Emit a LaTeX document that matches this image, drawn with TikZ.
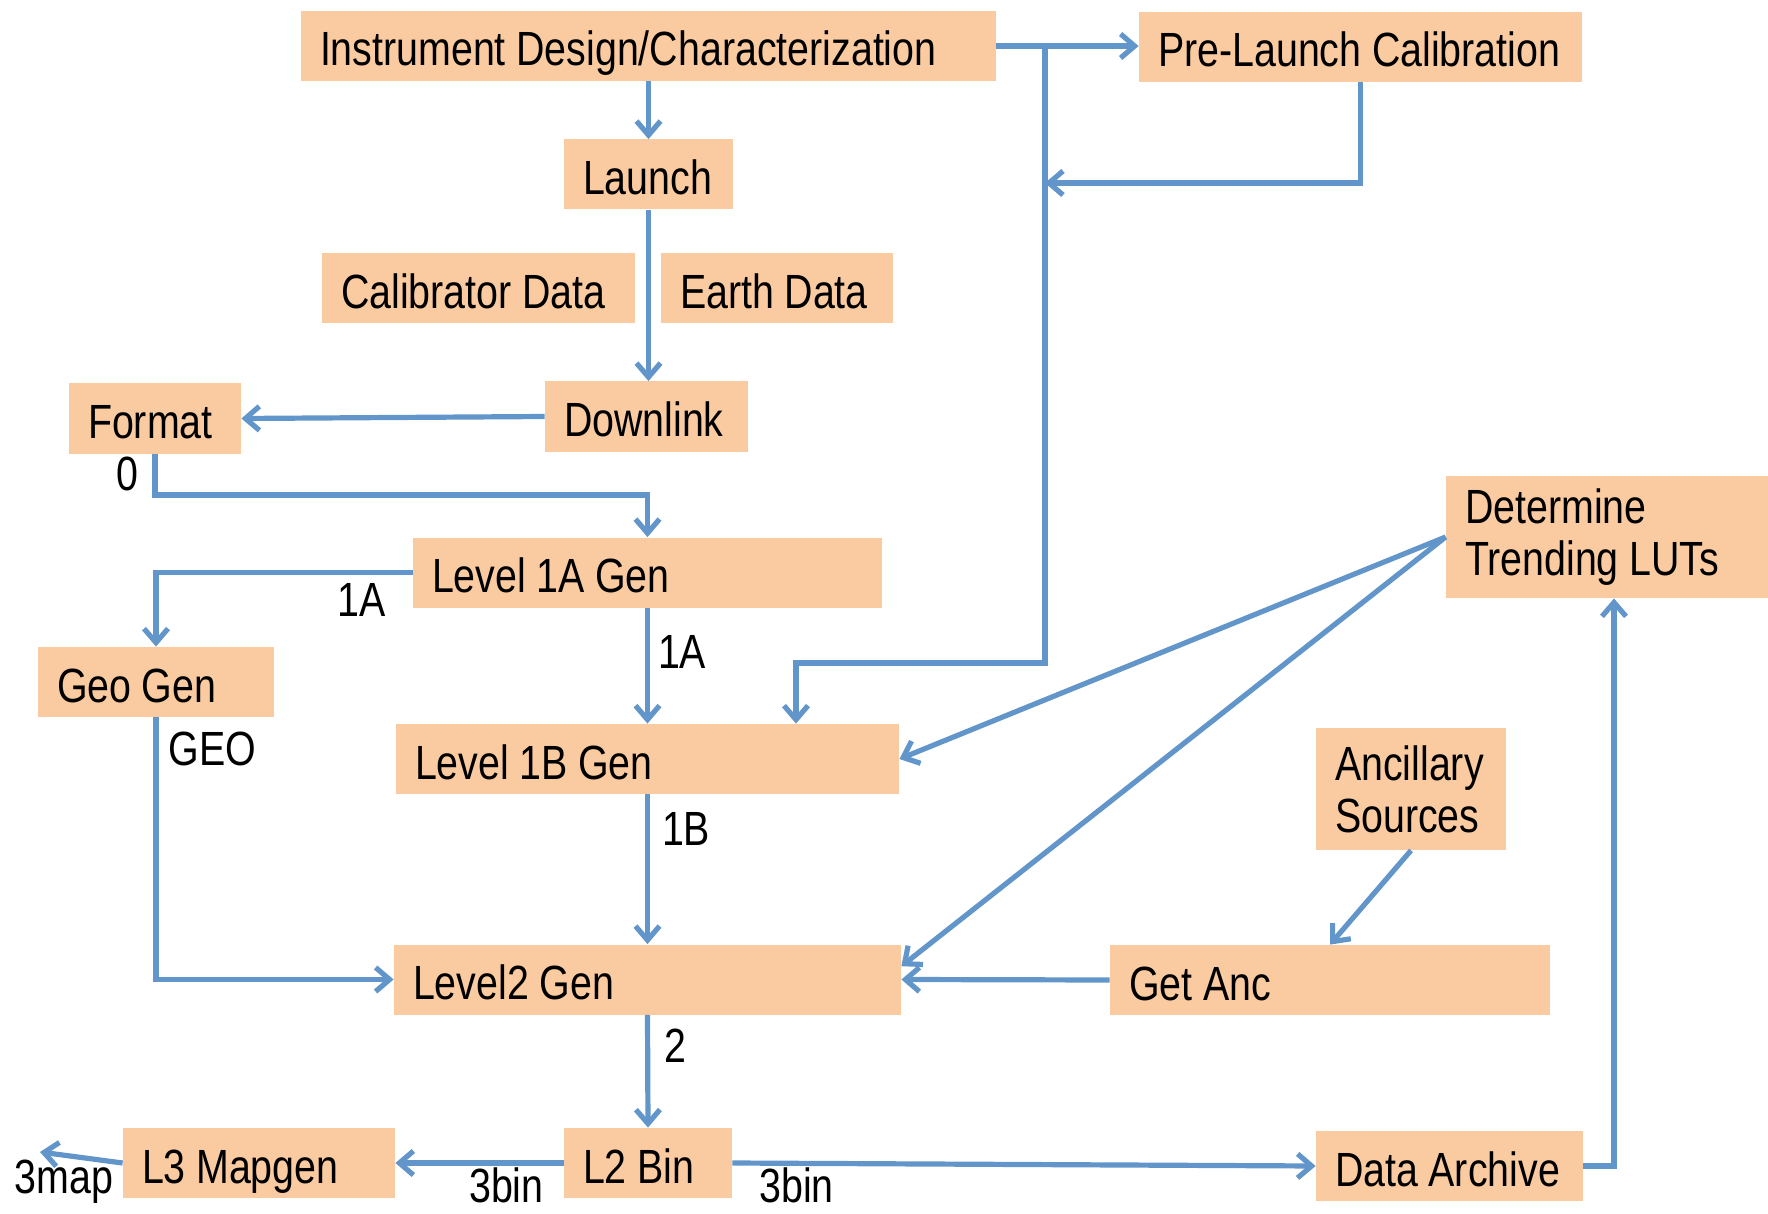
\documentclass[tikz,border=0pt]{standalone}
\usepackage{fontspec}
\setmainfont{Liberation Sans}[FakeStretch=0.82]
\usepackage{xcolor}
\usepackage{tikz}
\usetikzlibrary{arrows.meta}
\definecolor{boxfill}{RGB}{250,203,160}
\definecolor{flowline}{RGB}{98,150,202}

\begin{document}
\begin{tikzpicture}[
			     x=0.5pt, y=-0.5pt,
			     font=\fontsize{24}{26}\selectfont,
			     >={Straight Barb[length=7pt,width=12pt]},
			     blk/.style={fill=boxfill, inner xsep=9.5pt, inner ysep=0pt, align=left,
			                 execute at begin node={\spaceskip=0.22em plus 0.05em\relax}},
			     single/.style={blk, minimum height=35pt, text height=20pt, text depth=0pt},
			     tall/.style={blk, minimum height=61pt, yshift=0pt},
			     flow/.style={->, draw=flowline, line width=2.6pt},
			     lbl/.style={inner sep=4pt}
			     ]
\useasboundingbox (0,0) rectangle (1768,1214);
\node[single, text width=328.5pt] (inst) at (648.5,46) {Instrument Design/Characterization};
\node[single, text width=202.5pt] (pre) at (1360.5,47) {Pre-Launch Calibration};
\node[single, text width=65.5pt] (launch) at (648.5,174.5) {Launch};
\node[single, text width=137.5pt] (cal) at (478.5,288.5) {Calibrator Data};
\node[single, text width=97pt] (earth) at (777,288.5) {Earth Data};
\node[single, text width=67pt] (format) at (155,418.5) {Format};
\node[single, text width=82.5pt] (down) at (646.5,416.5) {Downlink};
\node[single, text width=215.5pt] (l1a) at (647.5,572.5) {Level 1A Gen};
\node[tall, text width=149pt] (trend) at (1614,537) {Determine\\Trending LUTs};
\node[single, text width=99pt] (geo) at (156,682) {Geo Gen};
\node[single, text width=232.5pt] (l1b) at (647.5,759) {Level 1B Gen};
\node[tall, text width=76pt] (anc) at (1411,789) {Ancillary\\Sources};
\node[single, text width=234.5pt] (l2) at (647.5,979.5) {Level2 Gen};
\node[single, text width=201pt] (getanc) at (1330,980) {Get Anc};
\node[single, text width=117pt] (l3) at (259,1163) {L3 Mapgen};
\node[single, text width=65pt] (l2bin) at (648,1163) {L2 Bin};
\node[single, text width=114.5pt] (arch) at (1449.5,1166) {Data Archive};
\coordinate (bus) at (1045,663);
\coordinate (l1bin) at (796,663);
\coordinate (ret) at (1045,183);
\coordinate (mapout) at (40,1152);

\draw[flow] (inst.south) -- (launch.north);
\draw[flow] (inst.east) -- (inst.east -| pre.west);
\draw[flow] (bus |- inst.east) -- (bus) -- (l1bin) -- (l1bin |- l1b.north);
\draw[flow] (pre.south) |- (ret);
\draw[flow] (launch.south) -- (launch.south |- down.north);
\draw[flow] (down.west) -- (format.east);
\draw[flow] (format.south) -- node[lbl, left, xshift=-3pt] {0} (format.south |- 0,495) -| (l1a.north);
\draw[flow] (l1a.west) -| node[lbl, below, pos=0.1] {1A} (geo.north);
\draw[flow] (l1a.south) -- node[lbl, right, pos=0.38] {1A} (l1b.north);
\draw[flow] (geo.south) |- node[lbl, right, pos=0.06, xshift=1pt] {GEO} (l2.west);
\draw[flow] (l1b.south) -- node[lbl, right, pos=0.23, xshift=2pt] {1B} (l2.north);
\draw[flow] (trend.west) -- (l1b.east);
\draw[flow] (trend.west) -- (l2.3.5);
\draw[flow] (anc.south) -- (getanc.north);
\draw[flow] (getanc.west) -- (l2.east);
\draw[flow] (l2.south) -- node[lbl, right, pos=0.27, xshift=3pt] {2} (l2bin.north);
\draw[flow] (l2bin.west) -- node[lbl, below, pos=0.34, inner sep=1pt] {3bin} (l3.east);
\draw[flow] (l2bin.east) -- node[lbl, below, pos=0.11, inner sep=1pt] {3bin} (arch.west);
\draw[flow] (l3.west) -- node[lbl, below, pos=0.71, inner sep=1pt] {3map} (mapout);
\draw[flow] (arch.east) -| (trend.south);
\end{tikzpicture}
\end{document}
